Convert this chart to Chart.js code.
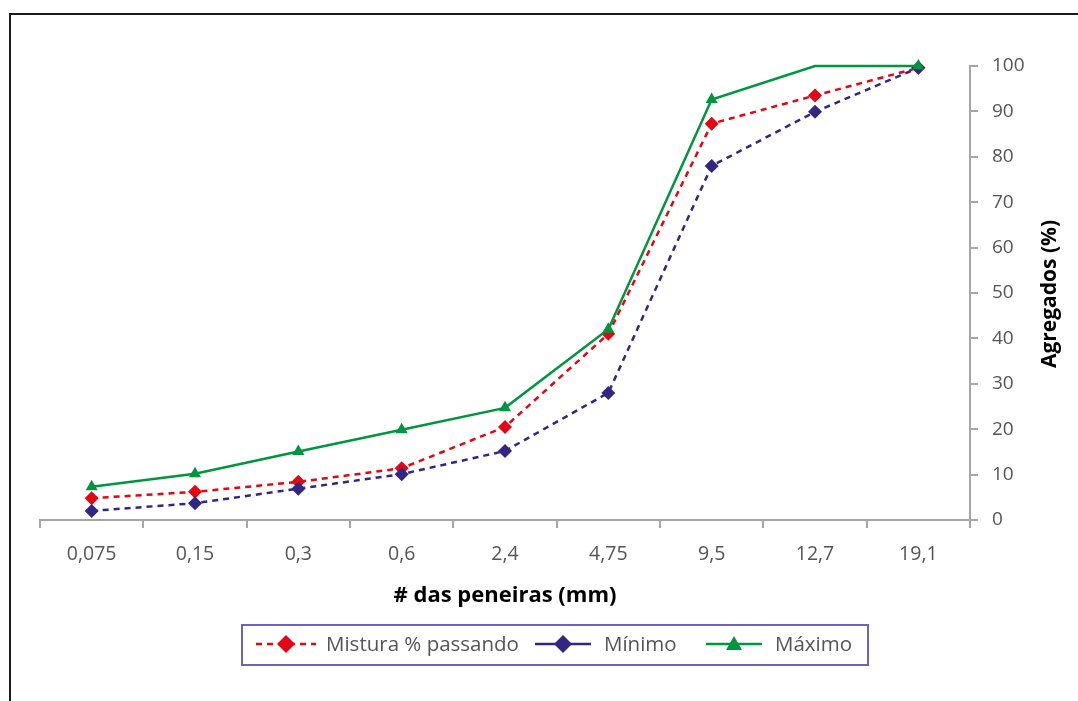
<!DOCTYPE html>
<html lang="pt">
<head>
<meta charset="utf-8">
<title>Curva granulométrica</title>
<script src="https://cdn.jsdelivr.net/npm/chart.js@4/dist/chart.umd.min.js"></script>
<style>
  html, body { margin: 0; padding: 0; background: #fff; }
  #wrap { width: 1078px; height: 701px; }
</style>
</head>
<body>
<div id="wrap"><canvas id="c" width="1078" height="701"></canvas></div>
<script>
// Aberturas das peneiras (mm)
const peneiras = ['0,075', '0,15', '0,3', '0,6', '2,4', '4,75', '9,5', '12,7', '19,1'];
// Percentual passante
const mistura = [4.8, 6.2, 8.4, 11.4, 20.5, 41, 87.3, 93.5, 99.6];
const minimo  = [2.0, 3.7, 6.9, 10.1, 15.2, 28, 78.0, 89.9, 99.6];
const maximo  = [7.3, 10.2, 15.1, 19.9, 24.7, 42, 92.6, 100, 100];
const yTicks  = [0, 10, 20, 30, 40, 50, 60, 70, 80, 90, 100];

const FONT = '"Open Sans", "Noto Sans", sans-serif';
const GREY_TXT = '#555555';
const AXIS = '#a6a6a6';
const RED = '#e30613';
const NAVY = '#312783';
const GREEN = '#009640';

// Moldura, título vertical e legenda desenhados no canvas
const extras = {
  id: 'extras',
  afterDraw(chart) {
    const ctx = chart.ctx;
    ctx.save();
    // moldura
    ctx.strokeStyle = '#1a1a1a';
    ctx.lineWidth = 2;
    ctx.beginPath();
    ctx.moveTo(10, 701);
    ctx.lineTo(10, 14);
    ctx.lineTo(1078, 14);
    ctx.stroke();

    // título do eixo y
    ctx.fillStyle = '#000';
    ctx.font = 'bold 21px ' + FONT;
    ctx.textAlign = 'center';
    ctx.textBaseline = 'middle';
    ctx.translate(1050, 294);
    ctx.rotate(-Math.PI / 2);
    ctx.fillText('Agregados (%)', 0, 0);
    ctx.setTransform(1, 0, 0, 1, 0, 0);

    // legenda
    ctx.strokeStyle = '#6e64b4';
    ctx.lineWidth = 2;
    ctx.strokeRect(242, 625, 626, 40);
    const cy = 644;
    const items = [
      { ds: chart.data.datasets[0], x0: 256, x1: 316, dash: [6, 5], text: 'Mistura % passando', tx: 326 },
      { ds: chart.data.datasets[1], x0: 535, x1: 591, dash: [], text: 'Mínimo', tx: 604 },
      { ds: chart.data.datasets[2], x0: 706, x1: 762, dash: [], text: 'Máximo', tx: 775 }
    ];
    items.forEach(it => {
      ctx.strokeStyle = it.ds.borderColor;
      ctx.lineWidth = 2.5;
      ctx.setLineDash(it.dash);
      ctx.beginPath();
      ctx.moveTo(it.x0, cy);
      ctx.lineTo(it.x1, cy);
      ctx.stroke();
      ctx.setLineDash([]);
      const mx = (it.x0 + it.x1) / 2;
      ctx.fillStyle = it.ds.borderColor;
      ctx.beginPath();
      if (it.ds.pointStyle === 'triangle') {
        ctx.moveTo(mx, cy - 8);
        ctx.lineTo(mx + 8, cy + 6);
        ctx.lineTo(mx - 8, cy + 6);
      } else {
        ctx.moveTo(mx, cy - 9);
        ctx.lineTo(mx + 9, cy);
        ctx.lineTo(mx, cy + 9);
        ctx.lineTo(mx - 9, cy);
      }
      ctx.closePath();
      ctx.fill();
      ctx.fillStyle = GREY_TXT;
      ctx.font = '20.5px ' + FONT;
      ctx.textAlign = 'left';
      ctx.textBaseline = 'middle';
      ctx.fillText(it.text, it.tx, cy + 1);
    });
    ctx.restore();
  }
};

new Chart(document.getElementById('c'), {
  type: 'line',
  data: {
    labels: peneiras,
    datasets: [
      {
        label: 'Mistura % passando',
        data: mistura,
        borderColor: RED,
        backgroundColor: RED,
        borderWidth: 2.5,
        borderDash: [6, 5],
        pointStyle: 'rectRot',
        pointRadius: 7,
        pointBorderWidth: 0,
        order: 2,
        clip: false
      },
      {
        label: 'Mínimo',
        data: minimo,
        borderColor: NAVY,
        backgroundColor: NAVY,
        borderWidth: 2.5,
        borderDash: [6, 5],
        pointStyle: 'rectRot',
        pointRadius: 7,
        pointBorderWidth: 0,
        order: 1,
        clip: false
      },
      {
        label: 'Máximo',
        data: maximo,
        borderColor: GREEN,
        backgroundColor: GREEN,
        borderWidth: 2.5,
        pointStyle: 'triangle',
        pointRadius: [7, 7, 7, 7, 7, 7, 7, 0, 7],
        pointBorderWidth: 0,
        order: 0,
        clip: false
      }
    ]
  },
  options: {
    responsive: false,
    devicePixelRatio: 1,
    animation: false,
    layout: { padding: { top: 66, left: 40, right: 0, bottom: 92 } },
    plugins: {
      legend: { display: false },
      tooltip: { enabled: false }
    },
    elements: { line: { tension: 0 } },
    scales: {
      x: {
        type: 'category',
        offset: true,
        grid: {
          offset: true,
          drawOnChartArea: false,
          drawTicks: true,
          tickLength: 8,
          color: AXIS,
          lineWidth: 2
        },
        border: { color: AXIS, width: 2 },
        ticks: {
          color: GREY_TXT,
          font: { family: FONT, size: 19.5 },
          padding: 15,
          maxRotation: 0
        },
        title: {
          display: true,
          text: '# das peneiras (mm)',
          color: '#000',
          font: { family: FONT, size: 22, weight: 'bold' },
          padding: { top: 0, bottom: 0 }
        },
        afterFit(scale) { scale.height = 89; }
      },
      y: {
        position: 'right',
        min: 0,
        max: 100,
        afterBuildTicks(scale) { scale.ticks = yTicks.map(v => ({ value: v })); },
        grid: {
          drawOnChartArea: false,
          drawTicks: true,
          tickLength: 8,
          color: AXIS,
          lineWidth: 2
        },
        border: { color: AXIS, width: 2 },
        ticks: {
          color: GREY_TXT,
          font: { family: FONT, size: 19 },
          padding: 14
        },
        afterFit(scale) { scale.width = 108; }
      }
    }
  },
  plugins: [extras]
});
</script>
</body>
</html>
